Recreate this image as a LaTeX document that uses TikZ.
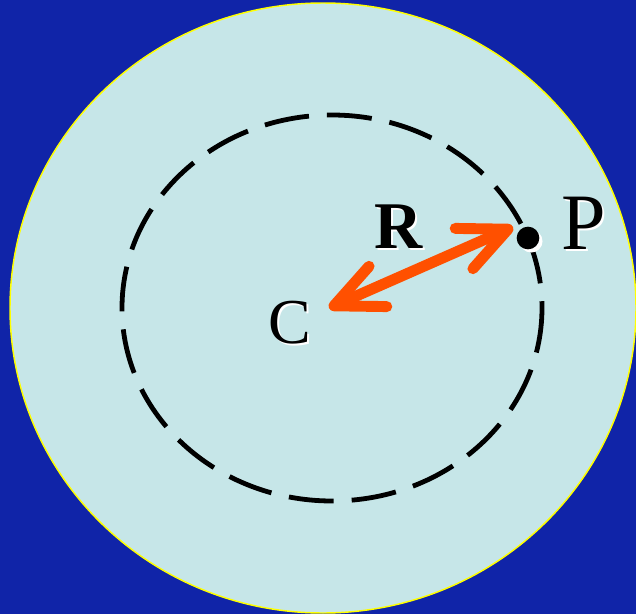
\documentclass[tikz,border=0pt]{standalone}
\usepackage{fontspec}
\setmainfont{Liberation Serif}
\usetikzlibrary{arrows.meta}
\definecolor{slideblue}{RGB}{16,36,168}
\definecolor{diskcyan}{RGB}{198,230,232}
\definecolor{rimyellow}{RGB}{255,255,0}
\definecolor{radiusorange}{RGB}{255,80,0}

\begin{document}
\begin{tikzpicture}[
    x=0.75pt,
    y=-0.75pt,
    orbit/.style={
      black,
      line width=3.6pt,
      dash pattern=on 33.75pt off 13.5pt
    },
    radius arrow/.style={
      radiusorange,
      line width=8.2pt,
      line cap=round,
      {Straight Barb[length=36pt,width=33pt,round]}-{Straight Barb[length=36pt,width=33pt,round]}
    },
    letter/.style={
      text=black,
      inner sep=0pt
    },
    letter shadow/.style={
      text=white,
      inner sep=0pt,
      xshift=1.5pt,
      yshift=-1.5pt
    },
    point dot/.style={
      circle,
      fill=black,
      inner sep=0pt,
      minimum size=17pt
    }
]

% Slide background and the large disk.
\useasboundingbox (0,0) rectangle (636,614);
\fill[slideblue] (0,0) rectangle (636,614);
\coordinate (disk) at (323,308);
\draw[rimyellow,line width=1.1pt,fill=diskcyan]
  (disk) ellipse [x radius=313, y radius=305];

% Dashed orbit round the centre.
\coordinate (centre) at (332,308);
\draw[orbit] (centre) ellipse [x radius=210, y radius=193];

% Point P on the orbit, with its white shadow.
\node[point dot,fill=white,xshift=2.4pt,yshift=-2.4pt] (P dot shadow) at (528,238) {};
\node[point dot] (P dot) at (528,238) {};

% Labels, each with a white copy set slightly lower right.
\node[letter shadow,font=\fontsize{48}{48}\selectfont] (C shadow) at (290,323) {C};
\node[letter,font=\fontsize{48}{48}\selectfont] (C) at (290,323) {C};
\node[letter shadow,font=\fontsize{50}{50}\selectfont\bfseries] (R shadow) at (399,227) {R};
\node[letter,font=\fontsize{50}{50}\selectfont\bfseries] (R) at (399,227) {R};
\node[letter shadow,font=\fontsize{60}{60}\selectfont] (P shadow) at (584,223) {P};
\node[letter,font=\fontsize{60}{60}\selectfont] (P) at (584,223) {P};

% Radius arrow from the centre out to P.
\coordinate (R tail) at (329,308);
\coordinate (R head) at (513,227);
\draw[radius arrow] (R tail) -- (R head);

\end{tikzpicture}
\end{document}
